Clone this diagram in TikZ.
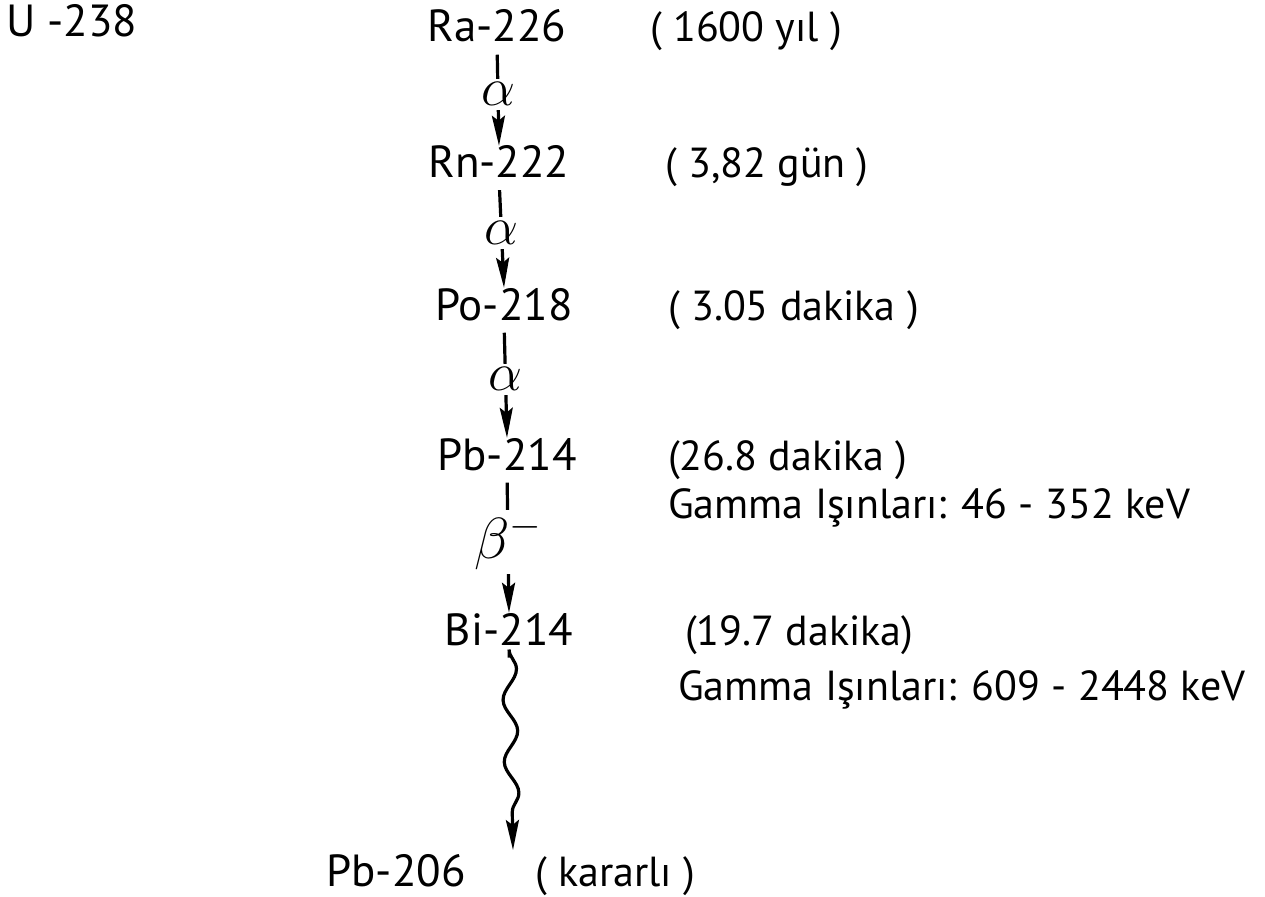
\RequirePackage{fix-cm}
\documentclass[tikz,border=0pt]{standalone}
\usepackage{fontspec}
\setmainfont{PT Sans}
\usetikzlibrary{arrows.meta,decorations.pathmorphing}
\begin{document}
\begin{tikzpicture}[x=1pt,y=-1pt,
  every node/.style={font=\fontsize{42}{50}\selectfont, inner sep=0pt},
  iso/.style={anchor=base, font=\fontsize{45}{54}\selectfont},
  info/.style={anchor=base west},
  decay/.style={line width=3.2pt, shorten <=12pt, -{Stealth[length=30pt,width=13pt,inset=5pt]}},
  lbl/.style={fill=white, inner sep=4pt, font=\fontsize{54}{60}\selectfont}]
\useasboundingbox (0,0) rectangle (1265,896);
% isotopes
\node[iso, anchor=base west] (U)  at (6,37)    {U -238};
\node[iso]  (Ra) at (497,42)  {Ra-226};
\node[iso]  (Rn) at (499,178) {Rn-222};
\node[iso]  (Po) at (504,320) {Po-218};
\node[iso]  (Pb) at (507,470) {Pb-214};
\node[iso]  (Bi) at (509,645) {Bi-214};
\node[iso]  (Pbs) at (396,886) {Pb-206};
\coordinate (end) at (513,850);
% half-lives and gamma energies
\node[info] (tRa) at (650,42)  {( 1600 yıl )};
\node[info] (tRn) at (665,178) {( 3,82 gün )};
\node[info] (tPo) at (668,320) {( 3.05 dakika )};
\node[info] (tPb) at (668,470) {(26.8 dakika )};
\node[info] (gPb) at (668,518) {Gamma Işınları: 46 - 352 keV};
\node[info] (tBi) at (685,645) {(19.7 dakika)};
\node[info] (gBi) at (678,700) {Gamma Işınları: 609 - 2448 keV};
\node[info] (tPbs) at (535,886) {( kararlı )};
% decays
\draw[decay] (Ra.south) -- node[lbl]{$\alpha$} (Rn.north);
\draw[decay] (Rn.south) -- node[lbl]{$\alpha$} (Po.north);
\draw[decay] (Po.south) -- node[lbl]{$\alpha$} (Pb.north);
\draw[decay] (Pb.south) -- node[lbl, font=\fontsize{58}{64}\selectfont]{$\beta^{-}$} (Bi.north);
\draw[decay, decorate, decoration={snake, segment length=62pt, amplitude=7pt, pre length=4pt, post length=36pt}] (Bi.south) -- (end);
\end{tikzpicture}
\end{document}
